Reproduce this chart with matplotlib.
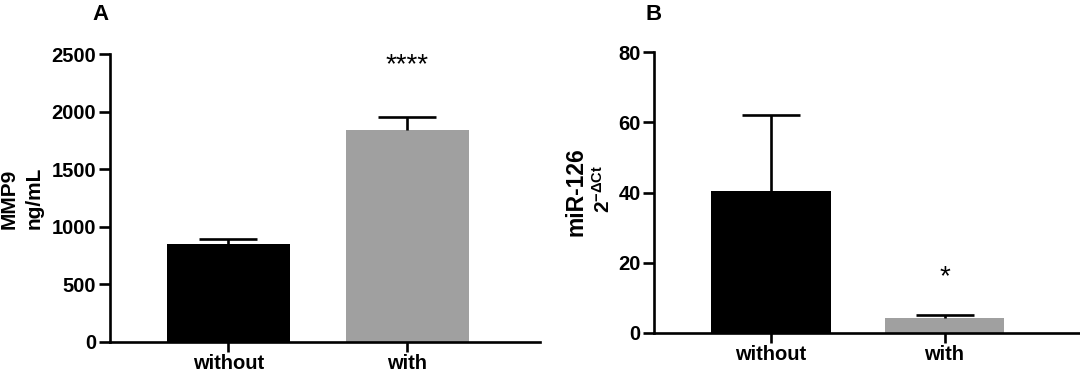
import numpy as np
import matplotlib

matplotlib.use("Agg")
import matplotlib.pyplot as plt  # noqa: E402

plt.rcParams["font.family"] = ["Liberation Sans", "DejaVu Sans"]
plt.rcParams["font.weight"] = "bold"
plt.rcParams["mathtext.fontset"] = "custom"
plt.rcParams["mathtext.rm"] = "Liberation Sans:bold"
plt.rcParams["mathtext.bf"] = "Liberation Sans:bold"
plt.rcParams["mathtext.it"] = "Liberation Sans:bold"

groups = ["without", "with"]
colors = ["#000000", "#a0a0a0"]

# A: MMP9 (ng/mL)
mmp9_mean = [850, 1840]
mmp9_err = [48, 112]
# B: miR-126 (2^-dCt)
mir_mean = [40.6, 4.1]
mir_err = [21.6, 1.1]

FS = 14.5
LW = 1.9
W, H = 1080, 374


def panel(ax, means, errs, ylim, yticks, stars, star_y, xlim):
    x = np.arange(len(groups))
    ax.bar(x, means, width=0.69, color=colors, edgecolor="none", zorder=2)
    for xi, m, e in zip(x, means, errs):
        _, caps, _ = ax.errorbar(xi, m, yerr=[[0], [e]], fmt="none", ecolor="black",
                                 elinewidth=LW, capsize=21, capthick=LW, zorder=3)
        caps[0].set_visible(False)  # 위쪽 cap만
    ax.set_xlim(*xlim)
    ax.set_ylim(*ylim)
    ax.set_yticks(yticks)
    ax.set_xticks(x)
    ax.set_xticklabels(groups)
    for s in ("top", "right"):
        ax.spines[s].set_visible(False)
    for s in ("left", "bottom"):
        ax.spines[s].set_linewidth(LW)
    ax.tick_params(axis="y", length=8, width=LW, labelsize=FS, pad=2)
    ax.tick_params(axis="x", length=7, width=LW, labelsize=FS, pad=2)
    ax.text(1, star_y, stars, ha="center", va="center", fontsize=20,
            fontweight="normal")


def vlabel(fig, xr, yc, s, size):
    # 회전된 라벨: 오른쪽 끝(px) / 세로 중심(px) 기준
    fig.text(xr / W, 1 - yc / H, s, rotation=90, ha="right", va="center",
             fontsize=size, fontweight="bold")


fig = plt.figure(figsize=(10.8, 3.74), dpi=100)
ax1 = fig.add_axes([0.102, 0.0856, 0.398, 0.770])
ax2 = fig.add_axes([0.606, 0.110, 0.394, 0.750])

panel(ax1, mmp9_mean, mmp9_err, (0, 2500), [0, 500, 1000, 1500, 2000, 2500],
      "****", 2400, (-0.66, 1.74))
panel(ax2, mir_mean, mir_err, (0, 80), [0, 20, 40, 60, 80],
      "*", 16.0, (-0.67, 1.78))

vlabel(fig, 19, 199, "MMP9", 15)
vlabel(fig, 44, 198, "ng/mL", 15)
vlabel(fig, 587, 192, "miR-126", 16.5)
vlabel(fig, 614, 189, "$\\mathbf{2^{-\\Delta Ct}}$", 15)

fig.text(0.086, 0.99, "A", fontsize=16, fontweight="bold", va="top")
fig.text(0.598, 0.99, "B", fontsize=16, fontweight="bold", va="top")

fig.savefig("out.png", dpi=100)
